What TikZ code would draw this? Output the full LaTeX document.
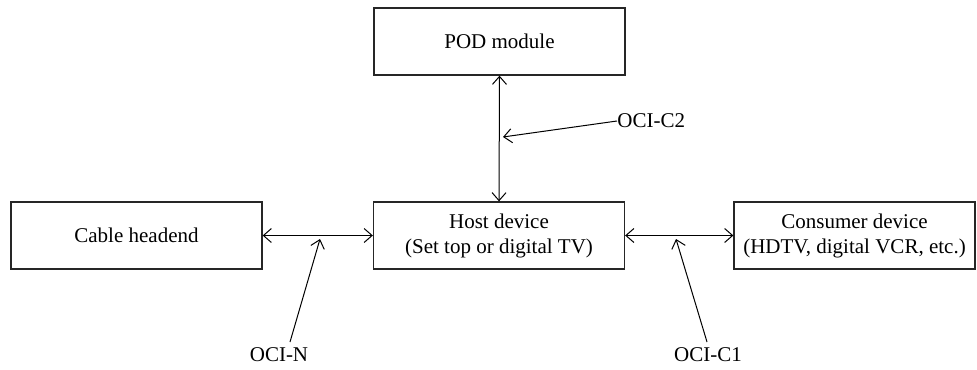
\documentclass[tikz,border=0pt]{standalone}
\usepackage{fontspec}
\setmainfont{Liberation Serif}
\usetikzlibrary{arrows.meta}
\begin{document}
\begin{tikzpicture}[x=0.5pt,y=-0.5pt,
  font=\fontsize{10.5}{12.5}\selectfont,
  blockbox/.style={draw=black!85,line width=0.65pt,minimum width=125.5pt,minimum height=33.5pt,inner sep=0pt,align=center},
  link/.style={line width=0.5pt,{Straight Barb[length=4pt,width=7pt]}-{Straight Barb[length=4pt,width=7pt]}},
  pointer/.style={line width=0.5pt,-{Straight Barb[length=4pt,width=7pt]}},
  tag/.style={inner sep=0pt}]
\useasboundingbox (0,0) rectangle (977,369);

% blocks
\node[blockbox] (pod) at (499.5,41.5) {POD module};
\node[blockbox] (cable) at (136.5,235.5) {Cable headend};
\node[blockbox] (host) at (499,235.5) {Host device\\(Set top or digital TV)};
\node[blockbox,minimum width=120.5pt] (consumer) at (854.5,235.5) {Consumer device\\(HDTV, digital VCR, etc.)};

% interfaces between blocks
\draw[link] (cable.east) -- (host.west);
\draw[link] (host.east) -- (consumer.west);
\draw[link] (pod.south) -- (host.north);

% interface labels
\node[tag] (ociN) at (279,355) {OCI-N};
\node[tag] (ociC1) at (708,355) {OCI-C1};
\node[tag,anchor=west] (ociC2) at (617,121) {OCI-C2};

\coordinate (nTail) at (290,342);
\coordinate (nTip) at (320,239);
\coordinate (c1Tail) at (707,342);
\coordinate (c1Tip) at (676,239);
\coordinate (c2Tip) at (503,137);

\draw[pointer] (nTail) -- (nTip);
\draw[pointer] (c1Tail) -- (c1Tip);
\draw[pointer] (ociC2.west) -- (c2Tip);
\end{tikzpicture}
\end{document}
